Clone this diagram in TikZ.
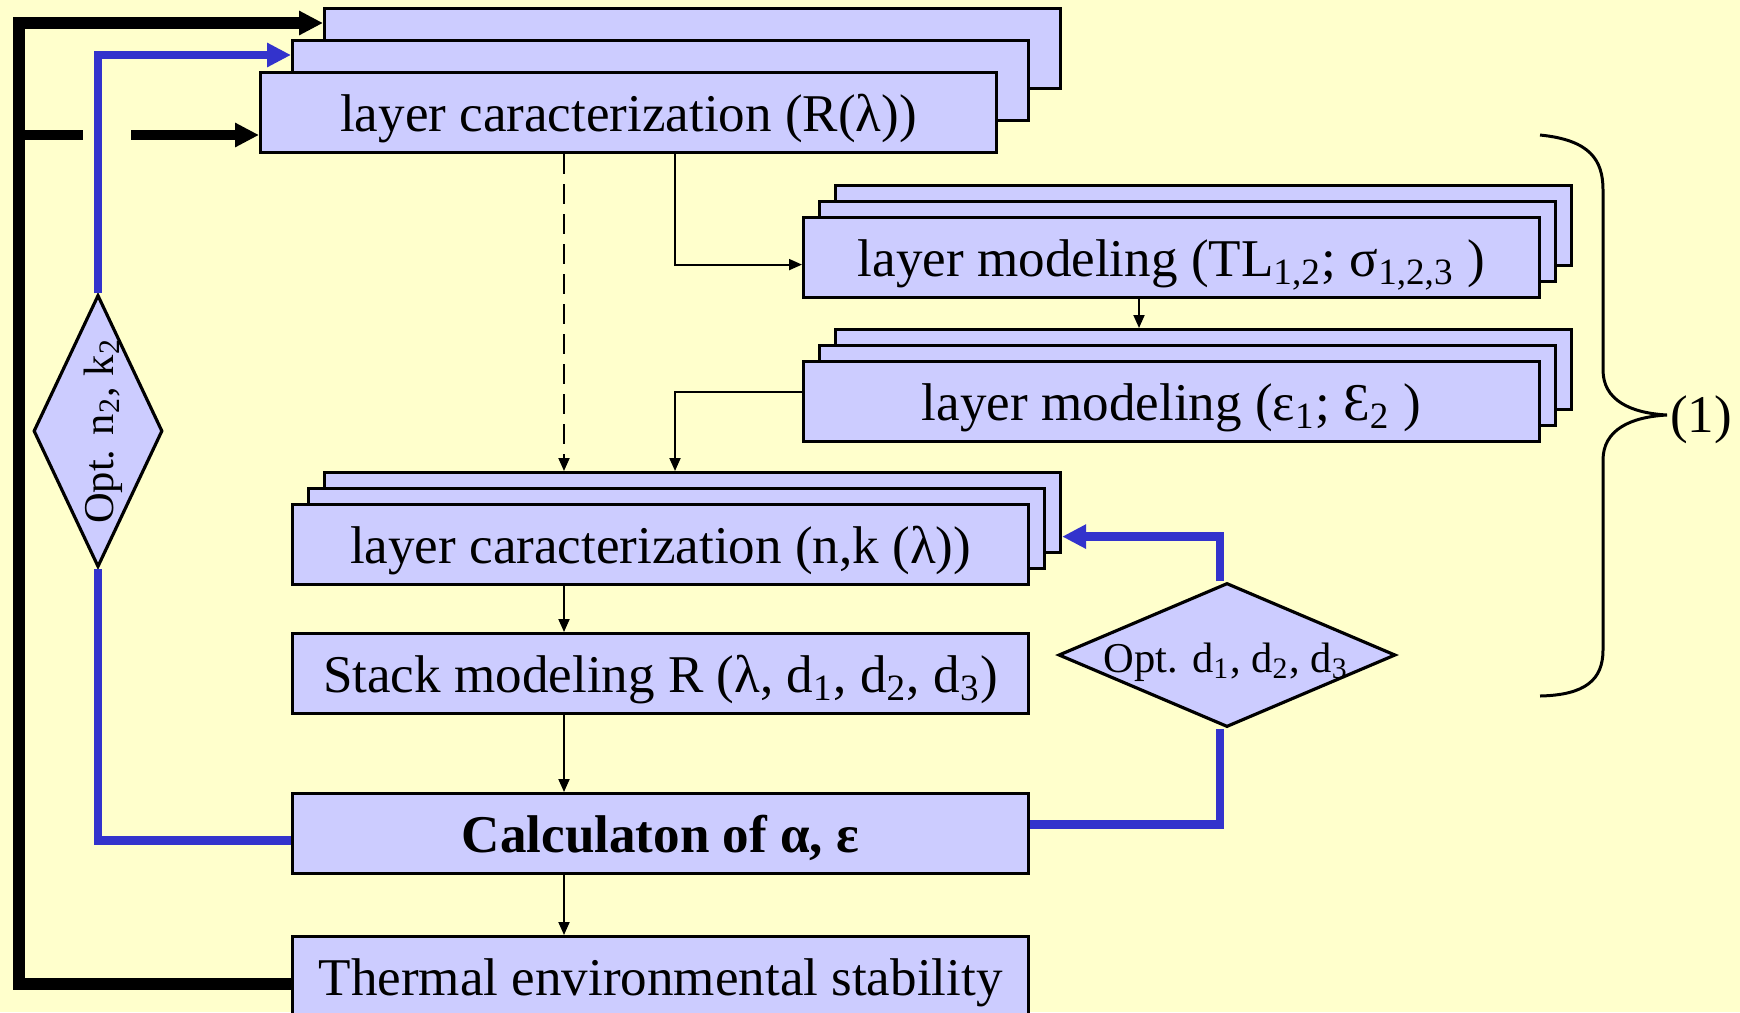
\documentclass[tikz,border=0pt]{standalone}
\usepackage{fontspec}
\setmainfont{Liberation Serif}
\usepackage{tikz}
\usetikzlibrary{arrows.meta, shapes.geometric}
\definecolor{bgyellow}{HTML}{FFFFCC}
\definecolor{sheetblue}{HTML}{CCCCFF}
\definecolor{loopblue}{HTML}{3333CC}
\tikzset{
    x=0.1mm, y=-0.1mm, % one unit is one pixel of the sketch, y runs down
    >={Triangle[length=1.3mm, width=1.1mm]}, % small heads for the thin arrows
    sheet/.style={draw, fill=sheetblue, line width=0.9pt, anchor=north west, inner sep=0pt,
        minimum width=73.6mm, minimum height=8mm, text height=3.8mm, text depth=0pt,
        font=\fontsize{15.1}{18}\selectfont},
    decision/.style={diamond, draw, fill=sheetblue, line width=0.9pt, inner sep=0pt}, % text goes on top
    opttext/.style={inner sep=0pt, font=\fontsize{12.1}{14}\selectfont},
    flow/.style={->, line width=0.55pt},
    bigtip/.style={-{Triangle[length=2.4mm, width=2.3mm]}},
    blackloop/.style={line width=3.4pt, line join=miter},
    blueloop/.style={draw=loopblue, line width=2.4pt, line join=miter},
}

\begin{document}
\begin{tikzpicture}
    \fill[bgyellow] (0,0) rectangle (1740,1012);
    \useasboundingbox (0,0) rectangle (1740,1012);

    % R stack
    \node[sheet] (rback) at (323,7) {};
    \node[sheet] (rmid) at (291,39) {};
    \node[sheet] (rfront) at (259,71) {layer caracterization (R(λ))};

    % TL stack
    \node[sheet] (tlback) at (834,184) {};
    \node[sheet] (tlmid) at (818,200) {};
    \node[sheet] (tlfront) at (802,216) {layer modeling (TL\textsubscript{1,2}; σ\textsubscript{1,2,3} )};

    % epsilon stack
    \node[sheet] (epsback) at (834,328) {};
    \node[sheet] (epsmid) at (818,344) {};
    \node[sheet] (epsfront) at (802,360) {layer modeling (ε\textsubscript{1}; Ɛ\textsubscript{2} )};

    % n,k stack
    \node[sheet] (nkback) at (323,471) {};
    \node[sheet] (nkmid) at (307,487) {};
    \node[sheet] (nkfront) at (291,503) {layer caracterization (n,k (λ))};

    \node[sheet] (stack) at (291,632) {Stack modeling R (λ, d\textsubscript{1}, d\textsubscript{2}, d\textsubscript{3})};
    \node[sheet, font=\fontsize{15.1}{18}\selectfont\bfseries] (calc) at (291,792) {Calculaton of α, ε};
    \node[sheet] (therm) at (291,935) {Thermal environmental stability};

    \node[decision, minimum width=12.9mm, minimum height=27.2mm] (optn) at (98,431) {};
    \node[opttext, rotate=90] (optntext) at (103,431) {Opt. n\textsubscript{2}, k\textsubscript{2}};
    \node[decision, minimum width=33.7mm, minimum height=14.4mm] (optd) at (1227,655) {};
    \node[opttext] (optdtext) at (1226,662) {Opt. d\textsubscript{1}, d\textsubscript{2}, d\textsubscript{3}};

    \coordinate (blacktop) at (19,23);
    \coordinate (stubL) at (19,135);
    \coordinate (stubM) at (83,135);
    \coordinate (stubR) at (131,135);
    \coordinate (bluetop) at (98,55);
    \coordinate (dashx) at (564,0);
    \coordinate (solx) at (675,0);
    \coordinate (tlx) at (1139,0);

    % thin arrows
    \draw[flow, dash pattern=on 2mm off 1mm] (rfront.south -| dashx) -- (nkback.north -| dashx);
    \draw[flow] (rfront.south -| solx) |- ([yshift=-0.7mm]tlfront.west);
    \draw[flow] (tlfront.south -| tlx) -- (epsback.north -| tlx);
    \draw[flow] ([yshift=1mm]epsfront.west) -| (nkback.north -| solx);
    \draw[flow] (nkfront.south -| dashx) -- (stack.north -| dashx);
    \draw[flow] (stack.south -| dashx) -- (calc.north -| dashx);
    \draw[flow] (calc.south -| dashx) -- (therm.north -| dashx);

    % feedback loops
    \draw[blackloop, bigtip] ([yshift=-0.7mm]therm.west) -| (blacktop) -- (rback.west |- blacktop);
    \draw[blackloop, line width=2.85pt] (stubL) -- (stubM);
    \draw[blackloop, line width=2.85pt, bigtip] (stubR) -- (rfront.west |- stubR);
    \draw[blueloop] ([yshift=-0.7mm]calc.west) -| (optn.south);
    \draw[blueloop, bigtip] (optn.north) |- (rmid.west |- bluetop);
    \draw[blueloop] ([yshift=0.9mm]calc.east) -| ([xshift=-0.7mm]optd.south);
    \draw[blueloop, bigtip] ([xshift=-0.7mm]optd.north) |- ([yshift=-2.4mm]nkback.east);

    % brace
    \coordinate (bracetip) at (1667,415);
    \draw[line width=0.85pt] (1540,135) .. controls (1590,140) and (1603,160) .. (1603,190)
        -- (1603,370) .. controls (1603,400) and (1630,413) .. (bracetip)
        .. controls (1630,417) and (1603,430) .. (1603,460)
        -- (1603,650) .. controls (1603,680) and (1585,695) .. (1540,696);
    \node[font=\fontsize{15.1}{18}\selectfont, inner sep=0pt] (bracelabel) at (1701,420) {(1)};
\end{tikzpicture}
\end{document}
